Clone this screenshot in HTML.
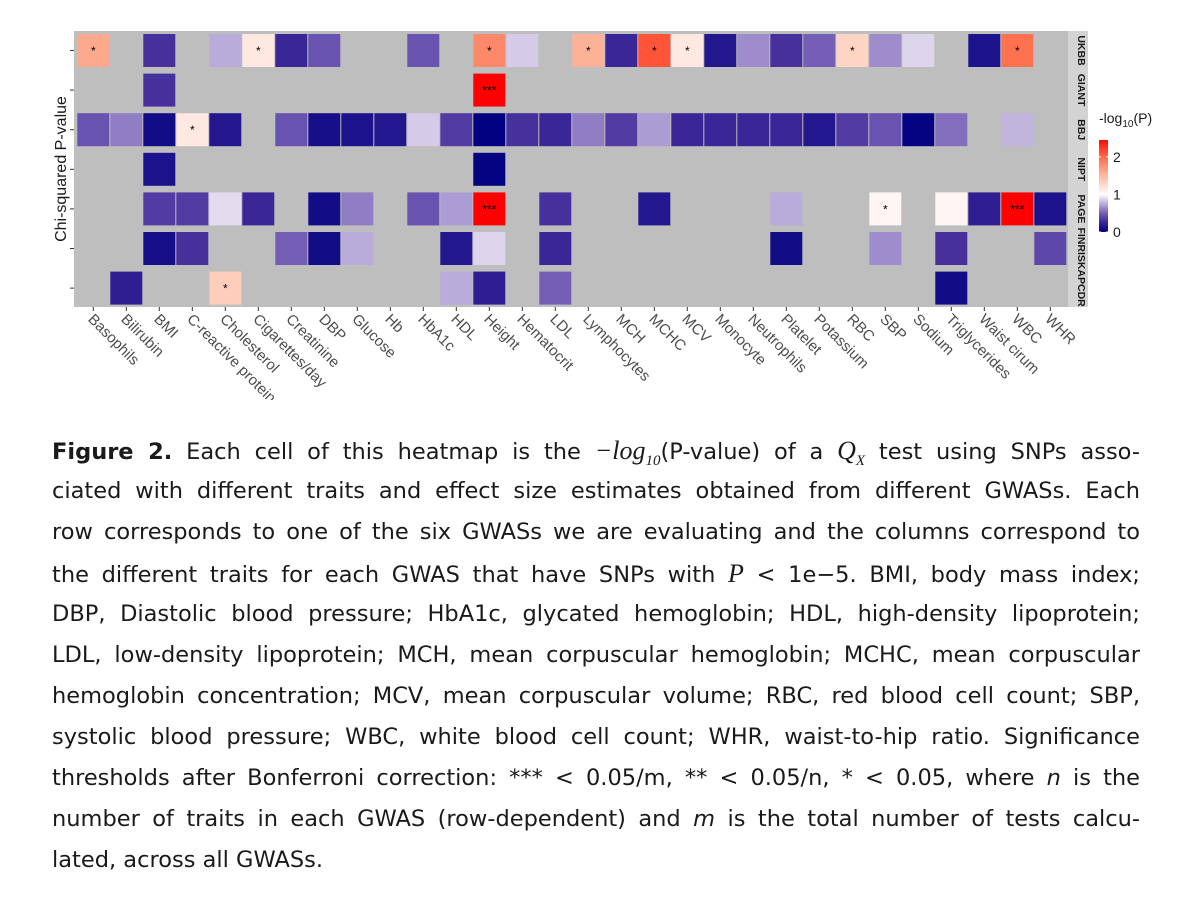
<!DOCTYPE html>
<html><head><meta charset="utf-8">
<style>
body{margin:0;background:#fff;width:1200px;height:916px;overflow:hidden;position:relative;font-family:"Liberation Sans",sans-serif}
#chart{position:absolute;left:0;top:0}
.cap{position:absolute;left:52px;width:1088px;font-family:"DejaVu Sans",sans-serif;font-size:22.5px;color:#1a1a1a;line-height:41px}
.ln{height:41px;white-space:nowrap;text-align:justify;text-align-last:justify;overflow:visible}
.ln.last{text-align-last:left}
.m{font-family:"Liberation Serif",serif;font-style:italic;font-size:26px}
</style></head><body>
<svg id="chart" width="1200" height="400"></svg>
<div class="cap" style="top:430px">
<div class="ln"><b>Figure 2.</b> Each cell of this heatmap is the <span class="m">−log<sub style="font-size:15px">10</sub></span>(P-value) of a <span class="m">Q<sub style="font-size:15px">X</sub></span> test using SNPs asso-</div>
<div class="ln">ciated with different traits and effect size estimates obtained from different GWASs. Each</div>
<div class="ln">row corresponds to one of the six GWASs we are evaluating and the columns correspond to</div>
<div class="ln">the different traits for each GWAS that have SNPs with <span class="m">P</span> &lt; 1e−5. BMI, body mass index;</div>
<div class="ln">DBP, Diastolic blood pressure; HbA1c, glycated hemoglobin; HDL, high-density lipoprotein;</div>
<div class="ln">LDL, low-density lipoprotein; MCH, mean corpuscular hemoglobin; MCHC, mean corpuscular</div>
<div class="ln">hemoglobin concentration; MCV, mean corpuscular volume; RBC, red blood cell count; SBP,</div>
<div class="ln">systolic blood pressure; WBC, white blood cell count; WHR, waist-to-hip ratio. Significance</div>
<div class="ln">thresholds after Bonferroni correction: *** &lt; 0.05/m, ** &lt; 0.05/n, * &lt; 0.05, where <i>n</i> is the</div>
<div class="ln">number of traits in each GWAS (row-dependent) and <i>m</i> is the total number of tests calcu-</div>
<div class="ln last">lated, across all GWASs.</div>
</div>
<script>
const categories=["Basophils","Bilirubin","BMI","C-reactive protein","Cholesterol","Cigarettes/day","Creatinine","DBP","Glucose","Hb","HbA1c","HDL","Height","Hematocrit","LDL","Lymphocytes","MCH","MCHC","MCV","Monocyte","Neutrophils","Platelet","Potassium","RBC","SBP","Sodium","Triglycerides","Waist cirum","WBC","WHR"];
const gwas=["UKBB","GIANT","BBJ","NIPT","PAGE","FINRISK","APCDR"];
const N=null;
const ukbb=[1.6,N,0.3,N,0.75,1.15,0.25,0.45,N,N,0.45,N,1.8,0.85,N,1.55,0.25,2.1,1.15,0.15,0.65,0.3,0.5,1.3,0.65,0.88,N,0.12,1.95,N];
const giant=[N,N,0.3,N,N,N,N,N,N,N,N,N,2.5,N,N,N,N,N,N,N,N,N,N,N,N,N,N,N,N,N];
const bbj=[0.45,0.6,0.08,1.15,0.15,N,0.45,0.1,0.12,0.15,0.85,0.35,0.0,0.3,0.25,0.6,0.35,0.7,0.25,0.25,0.25,0.25,0.15,0.35,0.45,0.02,0.55,N,0.78,N];
const nipt=[N,N,0.12,N,N,N,N,N,N,N,N,N,0.02,N,N,N,N,N,N,N,N,N,N,N,N,N,N,N,N,N];
const page=[N,N,0.35,0.35,0.9,0.25,N,0.08,0.6,N,0.45,0.7,2.5,N,0.3,N,N,0.15,N,N,N,0.75,N,N,1.05,N,1.05,0.2,2.5,0.12];
const finrisk=[N,N,0.1,0.3,N,N,0.5,0.08,0.75,N,N,0.15,0.88,N,0.25,N,N,N,N,N,N,0.08,N,N,0.65,N,0.3,N,N,0.4];
const apcdr=[N,0.2,N,N,1.35,N,N,N,N,N,N,0.75,0.2,N,0.5,N,N,N,N,N,N,N,N,N,N,N,0.08,N,N,N];
const starsUKBB={0:"*",5:"*",12:"*",15:"*",17:"*",18:"*",23:"*",28:"*"};
const starsGIANT={12:"***"};
const starsBBJ={3:"*"};
const starsPAGE={12:"***",24:"*",28:"***"};
const starsAPCDR={4:"*"};
const rows=[ukbb,giant,bbj,nipt,page,finrisk,apcdr];
const stars=[starsUKBB,starsGIANT,starsBBJ,{},starsPAGE,{},starsAPCDR];
const legendTicks=[0,1,2];

const NS="http://www.w3.org/2000/svg";
const svg=document.getElementById('chart');
function mk(t,a,p){const e=document.createElementNS(NS,t);for(const k in a)e.setAttribute(k,a[k]);(p||svg).appendChild(e);return e;}
const gx0=76.8,pitch=33.0,gy0=31,rpitch=39.6;
const x=i=>gx0+i*pitch;
const y=r=>gy0+3+r*rpitch;
const vMax=2.5;
const stops=[[0,[0,0,128]],[0.25,[58,38,150]],[0.5,[117,94,182]],[0.75,[185,171,218]],[1,[255,252,252]],[1.5,[253,185,160]],[2,[255,105,70]],[2.5,[255,0,0]]];
function col(v){v=Math.max(0,Math.min(vMax,v));for(let i=1;i<stops.length;i++){if(v<=stops[i][0]){const a=stops[i-1],b=stops[i],t=(v-a[0])/(b[0]-a[0]);return 'rgb('+a[1].map((c,k)=>Math.round(c+(b[1][k]-c)*t)).join(',')+')';}}return 'rgb(255,0,0)';}

const panel=mk('rect',{x:74,y:31,width:994,height:276,fill:'#bebebe'});


const strip=mk('rect',{x:1068,y:31,width:20,height:276,fill:'#d3d3d3'});



rows.forEach((row,r)=>{
  row.forEach((v,i)=>{
    if(v===null)return;
    const c=mk('rect',{x:x(i)+0.5,y:y(r),width:32,height:33,fill:col(v)});
    
    
    const s=stars[r][i];
    if(s){const t=mk('text',{x:x(i)+16.5,y:y(r)+21,'text-anchor':'middle','font-size':12,fill:'#000'});t.textContent=s;
      
      }
  });
  const ty=y(r)+16.5;
  const tk=mk('line',{x1:70,x2:74,y1:ty,y2:ty,stroke:'#333','stroke-width':1});
  
  
  const lab=mk('text',{x:1078,y:ty,'font-size':10.5,'font-weight':'bold',fill:'#1a1a1a','text-anchor':'middle',transform:'rotate(90 1078 '+ty+')'});
  lab.textContent=gwas[r];
  
  
});

categories.forEach((c,i)=>{
  const cx=x(i)+16.5;
  const tk=mk('line',{x1:cx,x2:cx,y1:307,y2:311,stroke:'#333','stroke-width':1});
  
  
  const t=mk('text',{x:cx-6,y:320,'font-size':15,fill:'#4d4d4d',transform:'rotate(45 '+(cx-6)+' 320)'});
  t.textContent=c;
  
  
});

const yt=mk('text',{x:66,y:169,'font-size':16,fill:'#1a1a1a','text-anchor':'middle',transform:'rotate(-90 66 169)'});
yt.textContent='Chi-squared P-value';



const lt=mk('text',{x:1099,y:123,'font-size':14,fill:'#1a1a1a'});
lt.innerHTML='-log<tspan font-size="10" dy="4">10</tspan><tspan dy="-4">(P)</tspan>';


const lb0=232,lbTop=140,lbScale=(lb0-lbTop)/2.45;
const defs=mk('defs',{});
const grad=mk('linearGradient',{id:'g',x1:0,y1:1,x2:0,y2:0},defs);
stops.forEach(s=>{if(s[0]<=2.45)mk('stop',{offset:s[0]/2.45,'stop-color':col(s[0])},grad);});
mk('stop',{offset:1,'stop-color':col(2.45)},grad);
const cb=mk('rect',{x:1099,y:lbTop,width:9,height:lb0-lbTop,fill:'url(#g)'});


legendTicks.forEach(v=>{
  const ly=lb0-v*lbScale;
  mk('line',{x1:1099,x2:1101,y1:ly,y2:ly,stroke:'#fff'});
  mk('line',{x1:1106,x2:1108,y1:ly,y2:ly,stroke:'#fff'});
  const t=mk('text',{x:1113,y:ly+5,'font-size':14,fill:'#1a1a1a'});
  t.textContent=v;
  
  
});
</script>
</body></html>
